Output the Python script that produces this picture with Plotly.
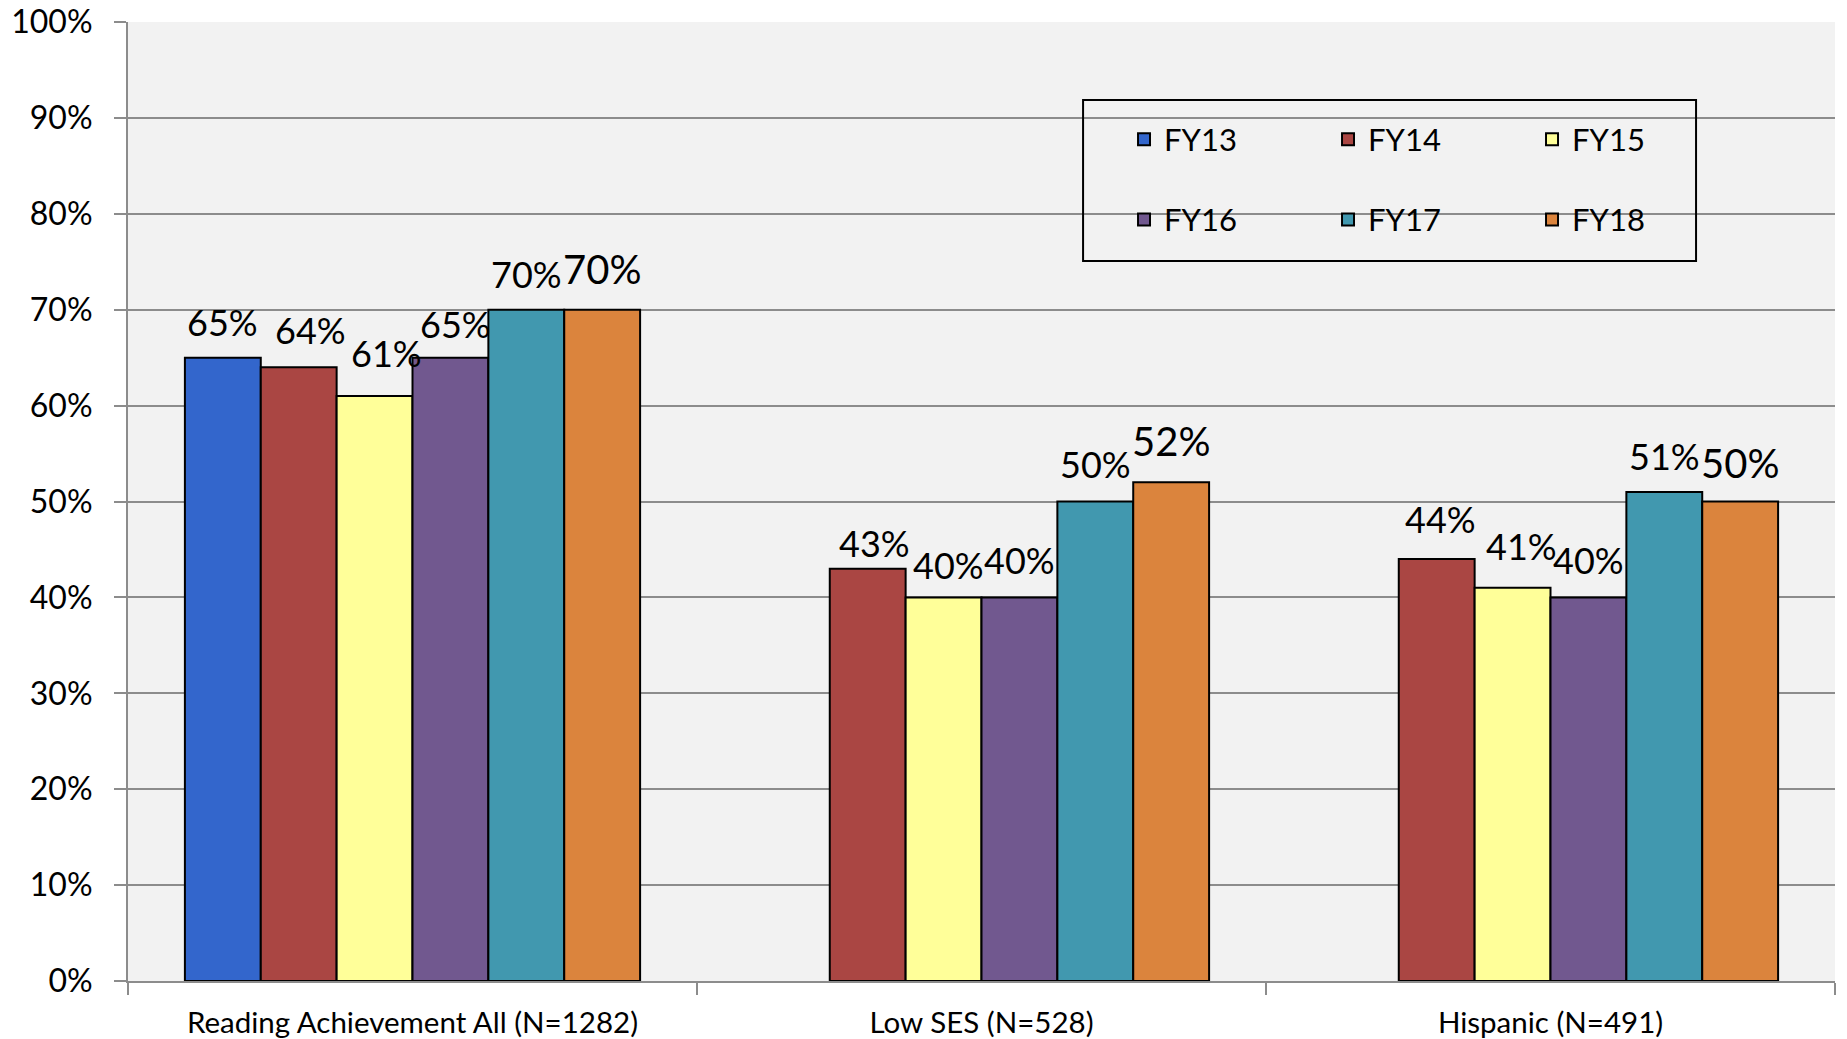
import plotly.graph_objects as go

# ---------------- data ----------------
categories = ["Reading Achievement All (N=1282)", "Low SES (N=528)", "Hispanic (N=491)"]
series_names = ["FY13", "FY14", "FY15", "FY16", "FY17", "FY18"]
fy13 = [65, None, None]
fy14 = [64, 43, 44]
fy15 = [61, 40, 41]
fy16 = [65, 40, 40]
fy17 = [70, 50, 51]
fy18 = [70, 52, 50]
y_tick_values = [0, 10, 20, 30, 40, 50, 60, 70, 80, 90, 100]
y_tick_labels = ["0%", "10%", "20%", "30%", "40%", "50%", "60%", "70%", "80%", "90%", "100%"]

series_values = [fy13, fy14, fy15, fy16, fy17, fy18]

# ---------------- styles ----------------
colors = ["#3366CC", "#AA4643", "#FFFF99", "#71588F", "#4198AF", "#DB843D"]
FONT = "Lato, 'Open Sans', sans-serif"
BARGAP = 0.2
LABEL_SIZE = [36, 36, 36, 36, 36, 40]
# label offsets (px): horizontal nudge and height of label centre above bar top
LABEL_DX = [[0, 0, 0], [12, 7, 4], [12, 5, 9], [5, 0, 0], [0, 0, 0], [0, 0, 0]]
LABEL_DY = [[36, 0, 0], [37, 26, 40], [43, 32, 42], [34, 37, 37], [36, 38, 36], [41, 41, 39]]

fig = go.Figure()
for si, (name, vals) in enumerate(zip(series_names, series_values)):
    fig.add_trace(go.Bar(
        name=name, x=categories, y=vals,
        marker=dict(color=colors[si], line=dict(color="#000000", width=2)),
        legend="legend" if si < 3 else "legend2",
    ))

n = len(series_names)
slot = (1 - BARGAP) / n
annotations = []
for si, vals in enumerate(series_values):
    for ci, v in enumerate(vals):
        if v is None:
            continue
        annotations.append(dict(
            x=ci + (si - (n - 1) / 2) * slot, y=v, xref="x", yref="y",
            text=f"{v}%", showarrow=False, xanchor="center", yanchor="middle",
            xshift=LABEL_DX[si][ci], yshift=LABEL_DY[si][ci],
            font=dict(family=FONT, size=LABEL_SIZE[si], color="#000000"),
        ))

grid = "#8C8C8C"
# the page body adds an 8px offset, so the figure is 8px smaller than the window
fig.update_layout(
    width=1839, height=1031,
    margin=dict(l=120, r=12, t=14, b=58),
    paper_bgcolor="#FFFFFF", plot_bgcolor="#F2F2F2",
    barmode="group", bargap=BARGAP, bargroupgap=0,
    font=dict(family=FONT, color="#000000"),
    annotations=annotations,
    legend=dict(orientation="h", x=0.5835, xanchor="left", y=0.8773, yanchor="middle",
                entrywidth=159, entrywidthmode="pixels", bgcolor="rgba(0,0,0,0)",
                font=dict(family=FONT, size=31)),
    legend2=dict(orientation="h", x=0.5835, xanchor="left", y=0.7938, yanchor="middle",
                 entrywidth=159, entrywidthmode="pixels", bgcolor="rgba(0,0,0,0)",
                 font=dict(family=FONT, size=31)),
    shapes=[dict(type="rect", xref="paper", yref="paper",
                 x0=0.5595, x1=0.9186, y0=0.7508, y1=0.9187,
                 line=dict(color="#000000", width=2), fillcolor="rgba(0,0,0,0)")],
    xaxis=dict(
        type="category", tickson="boundaries", ticks="outside", ticklen=12,
        tickcolor=grid, tickwidth=2, showline=True, linecolor=grid, linewidth=2,
        showgrid=False, tickfont=dict(family=FONT, size=29.5), ticklabelstandoff=15,
        automargin=False, ticklabeloverflow="allow",
    ),
    yaxis=dict(
        range=[0, 100], tickvals=y_tick_values, ticktext=y_tick_labels,
        ticks="outside", ticklen=12, tickcolor=grid, tickwidth=2,
        showline=True, linecolor=grid, linewidth=2,
        showgrid=True, gridcolor=grid, gridwidth=2, zeroline=False,
        tickfont=dict(family=FONT, size=32), ticklabelstandoff=15,
        automargin=False, ticklabeloverflow="allow",
    ),
)

fig.write_html("out.html")
